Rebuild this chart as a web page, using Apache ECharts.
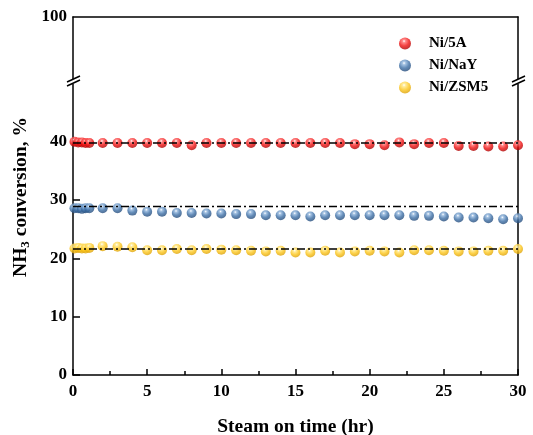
<!DOCTYPE html>
<html>
<head>
<meta charset="utf-8">
<script src="https://cdn.jsdelivr.net/npm/echarts@6/dist/echarts.min.js"></script>
<style>
  html, body { margin: 0; padding: 0; background: #fff; }
  #main { width: 533px; height: 435px; }
</style>
</head>
<body>
<div id="main"></div>
<script>
// steam-on time (hr), first hour sampled more often
var hours = [0.1, 0.35, 0.6, 0.85, 1.1, 2, 3, 4, 5, 6, 7, 8, 9, 10, 11, 12, 13, 14, 15, 16, 17, 18, 19, 20, 21, 22, 23, 24, 25, 26, 27, 28, 29, 30];
var ni5A = [40.0, 39.9, 39.9, 39.8, 39.8, 39.8, 39.8, 39.8, 39.8, 39.8, 39.8, 39.4, 39.8, 39.8, 39.8, 39.8, 39.8, 39.8, 39.8, 39.8, 39.8, 39.8, 39.6, 39.6, 39.4, 39.9, 39.6, 39.8, 39.8, 39.3, 39.3, 39.2, 39.2, 39.4];
var niNaY = [28.6, 28.6, 28.5, 28.6, 28.6, 28.6, 28.6, 28.2, 28.0, 28.0, 27.8, 27.8, 27.7, 27.7, 27.6, 27.6, 27.4, 27.4, 27.4, 27.2, 27.4, 27.4, 27.4, 27.4, 27.4, 27.4, 27.3, 27.3, 27.2, 27.0, 27.0, 26.9, 26.7, 26.9];
var niZSM5 = [21.7, 21.8, 21.7, 21.7, 21.8, 22.1, 22.0, 21.9, 21.4, 21.4, 21.6, 21.4, 21.6, 21.5, 21.4, 21.3, 21.2, 21.3, 21.0, 21.0, 21.3, 21.0, 21.2, 21.3, 21.2, 21.0, 21.4, 21.4, 21.3, 21.2, 21.2, 21.3, 21.3, 21.6];
// dash-dot average lines
var avgLines = [39.8, 28.9, 21.6];
var seriesNames = ['Ni/5A', 'Ni/NaY', 'Ni/ZSM5'];
var lowTicks = [0, 10, 20, 30, 40];
var highTicks = [100];

var chart = echarts.init(document.getElementById('main'));
var serif = '"Liberation Serif", "Times New Roman", serif';

function ball(light, base, dark) {
    return new echarts.graphic.RadialGradient(0.42, 0.3, 0.75, [
        { offset: 0, color: '#ffffff' },
        { offset: 0.18, color: light },
        { offset: 0.55, color: base },
        { offset: 1, color: dark }
    ]);
}
var balls = [
    ball('#ff6b6b', '#f01010', '#a00000'),
    ball('#8fb4dc', '#3d6fa6', '#1f4472'),
    ball('#ffe680', '#fcc51a', '#d69a00')
];

function pairs(ys) {
    return hours.map(function (h, i) { return [h, ys[i]]; });
}

var allData = [ni5A, niNaY, niZSM5];
var series = [];
allData.forEach(function (ys, i) {
    series.push({
        name: seriesNames[i],
        type: 'scatter',
        xAxisIndex: 1,
        yAxisIndex: 2,
        symbolSize: 10,
        itemStyle: { color: balls[i] },
        data: pairs(ys),
        z: 2
    });
    series.push({
        name: 'avg' + i,
        type: 'line',
        xAxisIndex: 1,
        yAxisIndex: 2,
        symbol: 'none',
        lineStyle: { color: '#000', width: 1.5, type: [8, 3, 2, 3] },
        data: [[0, avgLines[i]], [30, avgLines[i]]],
        silent: true,
        z: 3
    });
});

var axisLine = { show: true, lineStyle: { color: '#000', width: 1.5 } };

var option = {
    animation: false,
    backgroundColor: '#fff',
    grid: [
        { left: 73, right: 15, top: 17, height: 63, outerBoundsMode: 'none', containLabel: false },
        { left: 73, right: 15, top: 80, bottom: 60, outerBoundsMode: 'none', containLabel: false }
    ],
    legend: {
        data: seriesNames,
        orient: 'vertical',
        left: 394,
        top: 31,
        itemWidth: 38,
        itemHeight: 12,
        itemGap: 7,
        textStyle: { fontFamily: serif, fontWeight: 'bold', fontSize: 15, color: '#000' }
    },
    xAxis: [
        {
            gridIndex: 0, type: 'value', position: 'top', min: 0, max: 30,
            axisLine: axisLine, axisTick: { show: false }, axisLabel: { show: false },
            splitLine: { show: false }
        },
        {
            gridIndex: 1, type: 'value', position: 'bottom', min: 0, max: 30, interval: 5,
            axisLine: axisLine,
            axisTick: { inside: true, length: 6, lineStyle: { color: '#000', width: 1.5 } },
            minorTick: { show: true, splitNumber: 2, length: 4, lineStyle: { color: '#000', width: 1.5 } },
            axisLabel: { margin: 8, fontFamily: serif, fontWeight: 'bold', fontSize: 17, color: '#000' },
            splitLine: { show: false },
            name: 'Steam on time (hr)',
            nameLocation: 'middle',
            nameGap: 42,
            nameTextStyle: { fontFamily: serif, fontWeight: 'bold', fontSize: 19.5, color: '#000' }
        }
    ],
    yAxis: [
        {
            gridIndex: 0, type: 'value', position: 'left', min: 90, max: 100,
            axisLine: axisLine, axisTick: { show: false },
            axisLabel: { customValues: highTicks, margin: 6, fontFamily: serif, fontWeight: 'bold', fontSize: 17, color: '#000' },
            splitLine: { show: false }
        },
        {
            gridIndex: 0, type: 'value', position: 'right', min: 90, max: 100,
            axisLine: axisLine, axisTick: { show: false }, axisLabel: { show: false },
            splitLine: { show: false }
        },
        {
            gridIndex: 1, type: 'value', position: 'left', min: 0, max: 50.6,
            axisLine: axisLine,
            axisTick: { inside: true, length: 7, customValues: lowTicks, lineStyle: { color: '#000', width: 1.5 } },
            axisLabel: { customValues: lowTicks, margin: 6, fontFamily: serif, fontWeight: 'bold', fontSize: 17, color: '#000' },
            splitLine: { show: false }
        },
        {
            gridIndex: 1, type: 'value', position: 'right', min: 0, max: 50.6,
            axisLine: axisLine, axisTick: { show: false }, axisLabel: { show: false },
            splitLine: { show: false }
        }
    ],
    graphic: [
        // axis break marks
        { type: 'rect', shape: { x: 70, y: 79, width: 7, height: 5 }, style: { fill: '#fff' }, z: 100 },
        { type: 'line', shape: { x1: 67, y1: 82, x2: 80, y2: 76 }, style: { stroke: '#000', lineWidth: 1.5 }, z: 101 },
        { type: 'line', shape: { x1: 67, y1: 86, x2: 80, y2: 80 }, style: { stroke: '#000', lineWidth: 1.5 }, z: 101 },
        { type: 'rect', shape: { x: 515, y: 79, width: 7, height: 5 }, style: { fill: '#fff' }, z: 100 },
        { type: 'line', shape: { x1: 512, y1: 82, x2: 525, y2: 76 }, style: { stroke: '#000', lineWidth: 1.5 }, z: 101 },
        { type: 'line', shape: { x1: 512, y1: 86, x2: 525, y2: 80 }, style: { stroke: '#000', lineWidth: 1.5 }, z: 101 },
        // y axis title with subscript
        {
            type: 'text', x: 21, y: 197, rotation: Math.PI / 2, z: 101,
            style: {
                text: '{a|NH}{b|3}{a| conversion, %}',
                align: 'center', verticalAlign: 'middle',
                rich: {
                    a: { fontFamily: serif, fontWeight: 'bold', fontSize: 19.5, fill: '#000' },
                    b: { fontFamily: serif, fontWeight: 'bold', fontSize: 13, fill: '#000', padding: [10, 0, 0, 0] }
                }
            }
        }
    ],
    series: series
};

chart.setOption(option);
</script>
</body>
</html>
